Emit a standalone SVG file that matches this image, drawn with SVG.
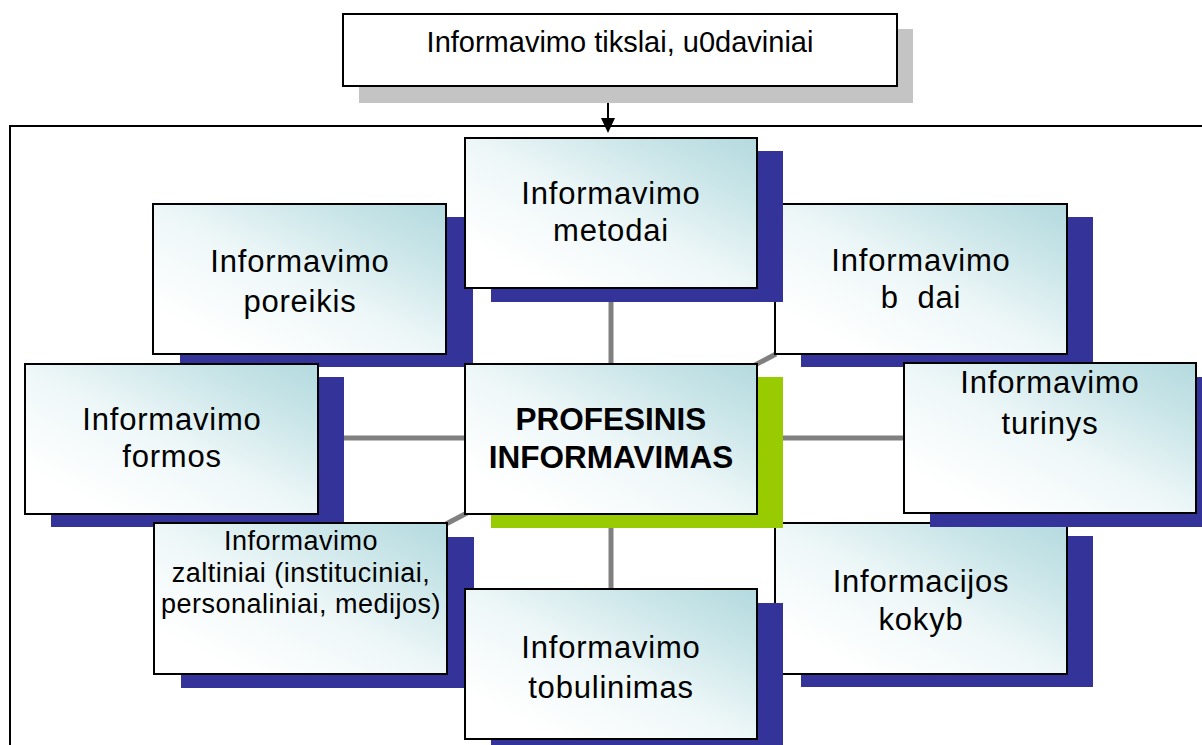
<svg xmlns="http://www.w3.org/2000/svg" width="1202" height="745" viewBox="0 0 1202 745">
<defs>
<linearGradient id="g" x1="1" y1="0" x2="0.15" y2="0.85">
<stop offset="0" stop-color="#b4dadf"/>
<stop offset="0.25" stop-color="#c9e5e8"/>
<stop offset="0.6" stop-color="#eef7f8"/>
<stop offset="1" stop-color="#ffffff"/>
</linearGradient>
<style>
.box{fill:url(#g);stroke:#000;stroke-width:2}
.sh{fill:#333399}
.shg{fill:#99cc00}
.t{font-family:"Liberation Sans",Arial,sans-serif;font-size:31px;letter-spacing:0.8px;text-anchor:middle;fill:#000}
.ts{font-family:"Liberation Sans",Arial,sans-serif;font-size:27px;letter-spacing:0.5px;text-anchor:middle;fill:#000}
.tb{font-family:"Liberation Sans",Arial,sans-serif;font-size:31.5px;font-weight:bold;text-anchor:middle;fill:#000}
.spoke{stroke:#808080;stroke-width:5;fill:none}
</style>
</defs>
<rect width="1202" height="745" fill="#fff"/>
<g id="connectors">
<path d="M10,745 V126 H1202" fill="none" stroke="#000" stroke-width="2"/>
<line x1="608" y1="86" x2="608" y2="120" stroke="#000" stroke-width="2"/>
<polygon points="601,118 615,118 608,133" fill="#000"/>
<line class="spoke" x1="611" y1="288" x2="611" y2="364"/>
<line class="spoke" x1="611" y1="514" x2="611" y2="589"/>
<line class="spoke" x1="318" y1="438" x2="465" y2="438"/>
<line class="spoke" x1="757" y1="438" x2="904" y2="438"/>
<line class="spoke" x1="755" y1="365" x2="776" y2="354"/>
<line class="spoke" x1="467" y1="513" x2="446" y2="524"/>
</g>
<g id="n-tikslai">
<rect x="359" y="29" width="554" height="74" fill="#c4c4c4"/>
<rect x="343" y="14" width="554" height="72" fill="#fff" stroke="#000" stroke-width="2"/>
<text x="620" y="52" font-family="Liberation Sans, Arial, sans-serif" font-size="29" text-anchor="middle">Informavimo tikslai, u0daviniai</text>
</g>
<g id="n-kokybe" transform="translate(775,523)">
<rect class="sh" x="26" y="13" width="292" height="151"/>
<rect class="box" x="0" y="0" width="292" height="151"/>
<text class="t" x="146" y="69">Informacijos</text>
<text class="t" x="146" y="107">kokyb</text>
</g>
<g id="n-budai" transform="translate(775,204)">
<rect class="sh" x="26" y="13" width="292" height="150"/>
<rect class="box" x="0" y="0" width="292" height="150"/>
<text class="t" x="146" y="67">Informavimo</text>
<text class="t" x="146" y="104" style="white-space:pre">b  dai</text>
</g>
<g id="n-poreikis" transform="translate(153,204)">
<rect class="sh" x="27" y="13" width="293" height="150"/>
<rect class="box" x="0" y="0" width="293" height="150"/>
<text class="t" x="147" y="68">Informavimo</text>
<text class="t" x="147" y="108">poreikis</text>
</g>
<g id="n-formos" transform="translate(25,364)">
<rect class="sh" x="26" y="13" width="293" height="150"/>
<rect class="box" x="0" y="0" width="293" height="150"/>
<text class="t" x="147" y="66">Informavimo</text>
<text class="t" x="147" y="103">formos</text>
</g>
<g id="n-saltiniai" transform="translate(154,523)">
<rect class="sh" x="27" y="14" width="293" height="151"/>
<rect class="box" x="0" y="0" width="293" height="151"/>
<text class="ts" x="147" y="27">Informavimo</text>
<text class="ts" x="147" y="59">zaltiniai (instituciniai,</text>
<text class="ts" x="147" y="90">personaliniai, medijos)</text>
</g>
<g id="n-metodai" transform="translate(465,138)">
<rect class="sh" x="26" y="13" width="292" height="151"/>
<rect class="box" x="0" y="0" width="292" height="150"/>
<text class="t" x="146" y="66">Informavimo</text>
<text class="t" x="146" y="103">metodai</text>
</g>
<g id="n-center" transform="translate(465,364)">
<rect class="shg" x="26" y="13" width="292" height="151"/>
<rect class="box" x="0" y="0" width="292" height="150"/>
<text class="tb" x="146" y="66">PROFESINIS</text>
<text class="tb" x="146" y="104">INFORMAVIMAS</text>
</g>
<g id="n-turinys" transform="translate(904,363)">
<rect class="sh" x="26" y="14" width="292" height="150"/>
<rect class="box" x="0" y="0" width="292" height="150"/>
<text class="t" x="146" y="30">Informavimo</text>
<text class="t" x="146" y="71">turinys</text>
</g>
<g id="n-tobulinimas" transform="translate(465,589)">
<rect class="sh" x="26" y="14" width="292" height="150"/>
<rect class="box" x="0" y="0" width="292" height="150"/>
<text class="t" x="146" y="69">Informavimo</text>
<text class="t" x="146" y="109">tobulinimas</text>
</g>
</svg>
